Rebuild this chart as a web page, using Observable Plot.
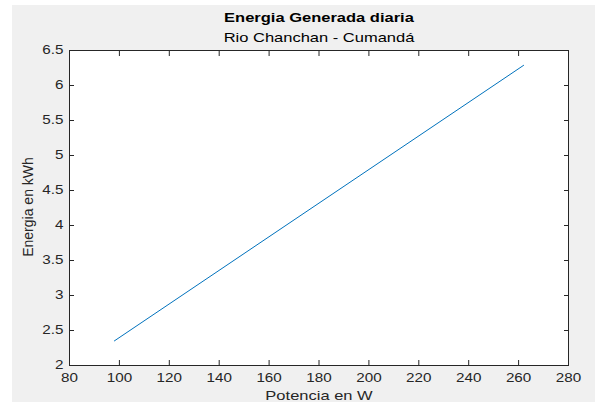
<!DOCTYPE html>
<html>
<head>
<meta charset="utf-8">
<script src="https://cdn.jsdelivr.net/npm/d3@7"></script>
<script src="https://cdn.jsdelivr.net/npm/@observablehq/plot@0.6"></script>
<style>
  html, body { margin: 0; padding: 0; background: #ffffff; }
  #wrap { position: relative; width: 598px; height: 402px; overflow: hidden; background: #ffffff; }
  #bg { position: absolute; left: 12px; top: 5px; width: 583px; height: 397px; background: #f0f0f0; }
  #chart { position: absolute; left: 0; top: 0; }
</style>
</head>
<body>
<div id="wrap"><div id="bg"></div><div id="chart"></div></div>
<script>
// Data
const potencia = [98, 262];          // W
const energia = [2.352, 6.288];      // kWh
const xTicks = [80, 100, 120, 140, 160, 180, 200, 220, 240, 260, 280];
const yTicks = [2, 2.5, 3, 3.5, 4, 4.5, 5, 5.5, 6, 6.5];
const titleText = "Energia Generada diaria";
const subtitleText = "Rio Chanchan - Cumandá";
const xLabel = "Potencia en W";
const yLabel = "Energia en kWh";

const data = potencia.map((p, i) => ({p, e: energia[i]}));
const axisColor = "#262626";

const chart = Plot.plot({
  width: 598,
  height: 402,
  marginLeft: 69,
  marginRight: 30,
  marginTop: 50,
  marginBottom: 37,
  style: {background: "transparent", fontFamily: "'Liberation Sans', Arial, sans-serif", fontSize: "12px", color: axisColor},
  x: {domain: [80, 280]},
  y: {domain: [2, 6.5]},
  marks: [
    Plot.frame({fill: "white", stroke: null}),
    Plot.line(data, {x: "p", y: "e", stroke: "#0072BD", strokeWidth: 1}),
    // tick labels
    Plot.axisX({ticks: xTicks, tickSize: 0, tickPadding: 8, label: null, fontSize: 12, tickFormat: d => `${d}`}),
    Plot.axisY({ticks: yTicks, tickSize: 0, tickPadding: 6, label: null, fontSize: 12, tickFormat: d => `${d}`}),
    // inward ticks on all four sides
    Plot.axisX({ticks: xTicks, anchor: "bottom", tickSize: 5, dy: -5, text: null, label: null, stroke: axisColor}),
    Plot.axisX({ticks: xTicks, anchor: "top", tickSize: 5, dy: 5, text: null, label: null, stroke: axisColor}),
    Plot.axisY({ticks: yTicks, anchor: "left", tickSize: 5, dx: 5, text: null, label: null, stroke: axisColor}),
    Plot.axisY({ticks: yTicks, anchor: "right", tickSize: 5, dx: -5, text: null, label: null, stroke: axisColor}),
    Plot.frame({stroke: axisColor, strokeWidth: 1}),
    // titles and axis labels
    Plot.text([titleText], {text: d => d, frameAnchor: "top", lineAnchor: "middle", textAnchor: "middle", dy: -33, fontWeight: "bold", fontSize: 13, fill: "#000"}),
    Plot.text([subtitleText], {text: d => d, frameAnchor: "top", lineAnchor: "middle", textAnchor: "middle", dy: -13, fontSize: 13, fill: "#000"}),
    Plot.text([xLabel], {text: d => d, frameAnchor: "bottom", lineAnchor: "middle", textAnchor: "middle", dy: 30, fontSize: 13, fill: axisColor}),
    Plot.text([yLabel], {text: d => d, frameAnchor: "left", lineAnchor: "middle", textAnchor: "middle", dx: -40.5, dy: -1, rotate: -90, fontSize: 14, fill: axisColor})
  ]
});

// The reference is horizontally stretched; stretch the (horizontal) glyphs to match.
const S = 1.27;
chart.querySelectorAll("text").forEach(el => {
  const t = el.getAttribute("transform");
  if (t && /rotate\(/.test(t)) return;
  if (t && /translate\(/.test(t)) {
    el.setAttribute("transform", t.replace(/(translate\([^)]*\))/, `$1 scale(${S},1)`));
  } else {
    const x = +(el.getAttribute("x") || 0), y = +(el.getAttribute("y") || 0);
    el.setAttribute("transform", `translate(${x},${y}) scale(${S},1) translate(${-x},${-y})`);
  }
});

document.getElementById("chart").appendChild(chart);
</script>
</body>
</html>
